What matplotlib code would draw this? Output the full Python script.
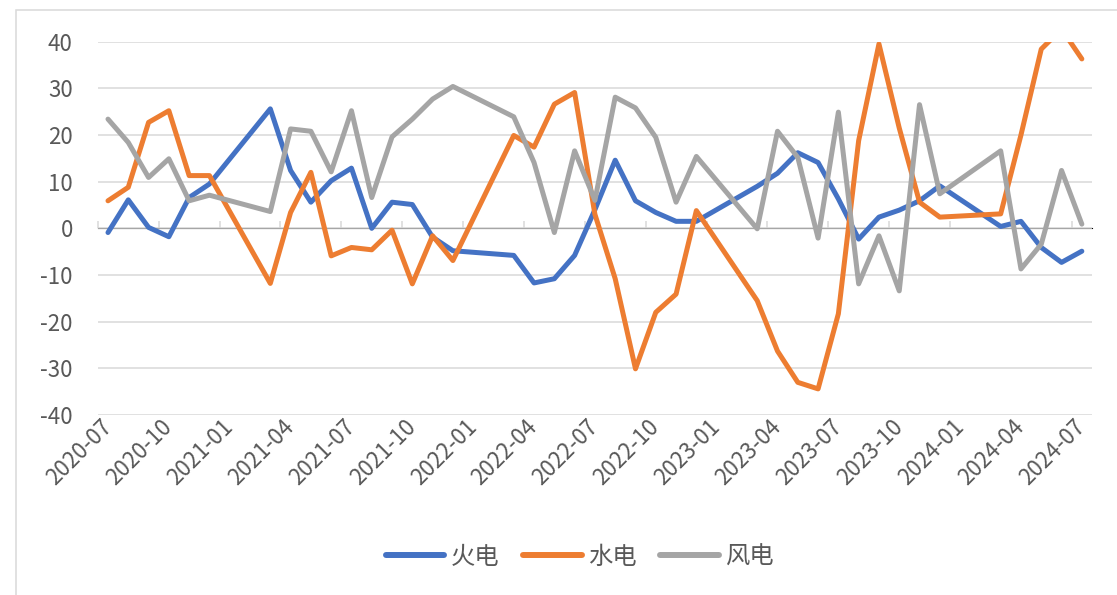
import pandas as pd
import matplotlib
matplotlib.use("Agg")
import matplotlib.pyplot as plt
from matplotlib.patches import Rectangle

plt.rcParams['font.family'] = ['Noto Sans CJK SC', 'DejaVu Sans']
plt.rcParams['axes.unicode_minus'] = False

# months with data (Jan/Feb are not published separately)
months = [
    "2020-07", "2020-08", "2020-09", "2020-10", "2020-11", "2020-12",
    "2021-03", "2021-04", "2021-05", "2021-06", "2021-07", "2021-08",
    "2021-09", "2021-10", "2021-11", "2021-12",
    "2022-03", "2022-04", "2022-05", "2022-06", "2022-07", "2022-08",
    "2022-09", "2022-10", "2022-11", "2022-12",
    "2023-03", "2023-04", "2023-05", "2023-06", "2023-07", "2023-08",
    "2023-09", "2023-10", "2023-11", "2023-12",
    "2024-03", "2024-04", "2024-05", "2024-06", "2024-07",
]

# 火电
thermal = [
    -0.9, 6.1, 0.2, -1.8, 6.6, 9.5,
    25.6, 12.4, 5.6, 10.2, 12.9, 0.0, 5.6, 5.1, -1.9, -4.8,
    -5.8, -11.7, -10.8, -5.8, 4.0, 14.6, 5.9, 3.4, 1.5, 1.5,
    9.0, 11.8, 16.2, 14.1, 6.3, -2.3, 2.4, 3.9, 5.9, 9.1,
    0.4, 1.5, -4.1, -7.3, -4.9,
]

# 水电
hydro = [
    5.9, 8.8, 22.7, 25.2, 11.3, 11.3,
    -11.8, 3.4, 12.0, -5.9, -4.1, -4.6, -0.4, -11.9, -1.6, -6.9,
    19.9, 17.4, 26.6, 29.1, 3.0, -10.8, -30.1, -18.0, -14.1, 3.8,
    -15.5, -26.3, -33.0, -34.4, -18.3, 18.8, 39.5, 21.5, 5.6, 2.4,
    3.1, 20.0, 38.4, 42.7, 36.3,
]

# 风电
wind = [
    23.4, 18.4, 10.9, 14.9, 5.9, 7.1,
    3.6, 21.3, 20.8, 12.1, 25.2, 6.6, 19.6, 23.4, 27.7, 30.4,
    23.9, 14.1, -0.9, 16.6, 6.0, 28.1, 25.8, 19.5, 5.6, 15.4,
    -0.1, 20.8, 15.2, -2.1, 24.9, -11.9, -1.6, -13.4, 26.5, 7.4,
    16.6, -8.7, -3.4, 12.4, 0.9,
]

start = pd.Period("2020-07", freq="M")
end = pd.Period("2024-07", freq="M")
x = [(pd.Period(m, freq="M") - start).n for m in months]
n_cat = (end - start).n + 1
all_months = [str(start + i) for i in range(n_cat)]

fig = plt.figure(figsize=(11.17, 5.95), dpi=100)
ax = fig.add_axes([0.0876, 0.3025, 0.89, 0.6275])

colors = ["#4472C4", "#ED7D31", "#A5A5A5"]
names = ["火电", "水电", "风电"]
for vals, c, name in zip([thermal, hydro, wind], colors, names):
    ax.plot(x, vals, color=c, lw=3.6, label=name,
            solid_capstyle="round", solid_joinstyle="round")

ax.set_xlim(-0.5, n_cat - 0.5)
ax.set_ylim(-40, 40)
ax.set_yticks(range(-40, 41, 10))
ax.grid(axis="y", color="#D9D9D9", lw=1.1)
ax.set_axisbelow(True)
for s in ax.spines.values():
    s.set_visible(False)

ax.tick_params(axis="y", length=0, pad=18, labelsize=16, labelcolor="#595959")

lab_idx = list(range(0, n_cat, 3))
ax.set_xticks(lab_idx)
ax.set_xticklabels([all_months[i] for i in lab_idx], rotation=45,
                   ha="right", va="center", rotation_mode="anchor")
ax.tick_params(axis="x", length=0, pad=6, labelsize=16, labelcolor="#595959")

# category axis line at zero with ticks between categories
sec = ax.secondary_xaxis(0.5)
sec.set_xticks([i - 0.5 for i in range(0, n_cat, 3)])
sec.set_xticklabels([])
sec.tick_params(axis="x", length=5, width=1.1, color="#D9D9D9", direction="out")
sec.spines["bottom"].set_color("#D9D9D9")
sec.spines["bottom"].set_linewidth(1.1)

leg = fig.legend(loc="center", bbox_to_anchor=(0.519, 0.064), ncol=3,
                 frameon=False, fontsize=17.5, handlelength=2.4,
                 handletextpad=0.25, columnspacing=1.0, labelcolor="#595959")
for line in leg.get_lines():
    line.set_linewidth(4.3)

# chart frame (only top and left edges fall inside the picture)
fig.add_artist(Rectangle((16 / 1117, -0.5), 1.5, 1.5 - 10 / 595,
                         transform=fig.transFigure, fill=False,
                         edgecolor="#D9D9D9", lw=1.1))

fig.savefig("out.png", dpi=100)
